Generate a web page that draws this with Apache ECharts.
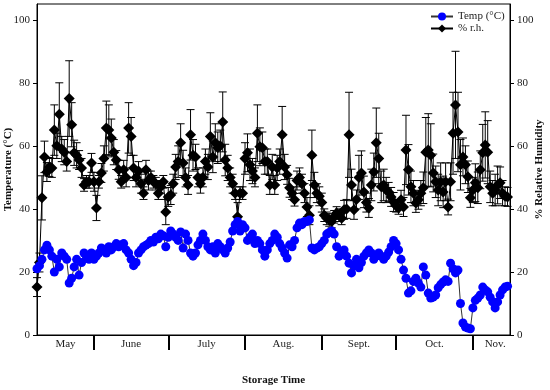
<!DOCTYPE html>
<html>
<head>
<meta charset="utf-8">
<script src="https://cdn.jsdelivr.net/npm/echarts@6/dist/echarts.min.js"></script>
<style>
html,body{margin:0;padding:0;background:#fff;}
#chart{width:550px;height:390px;}
</style>
</head>
<body>
<div id="chart"></div>
<script>
// Day index from start of storage (early May) to mid November
const monthNames = ['May', 'June', 'July', 'Aug.', 'Sept.', 'Oct.', 'Nov.'];
const monthLabelPos = [11.5, 38, 68.5, 99.5, 130, 160.5, 185];
const monthBounds = [23, 53, 84, 115, 145, 176];
const yTicks = [0, 20, 40, 60, 80, 100];

// Temperature (°C), one value per day
const temp = [
21,22,24,27,28.5,27,25,20,24,21.6,
26,25,24,16.5,18,21.6,24,19,23,26,
25,24,26,24,25,26,27.6,27,26,28,
27,28,29,28,28.6,29,27,26,24,22,
23,26,27,28,28.5,29,30,29.5,31,30.5,
32,31.5,28,31,33,32,31,30,32.7,27.6,
32,30,26,25,26,28.6,30,32,30,28,
27,28,26,29,28,27,26,27.6,29.5,33,
35,36,33,35,34,30,31,32,29,30,
29,27,25,27,29,30,32,31,29,27.6,
26,24.4,28.6,28,30,34,35.5,35,36,36,
36.5,27.6,27,27.6,28,29,30,32,32.5,33,
32,28,25,26,27,25,22.8,19.7,22,24,
21.3,23,25,26,27,26,24,25,26,25,
24,25,26.3,28,30,29,27,24,20.6,18,
13.3,14,17,18,16.5,15.2,21.6,19,13.3,11.7,
12,12.7,15,16,16.8,17.5,17,22.8,21,19.7,
20.6,10,3.8,2.5,2.2,2,8.6,11,11.7,12.7,
15.2,14.3,13.7,12,10.5,8.6,10.5,12.7,14.3,15.2,
15.5
];

// Relative humidity (%), one value per day
const rh = [
15.2,23,43.5,56.5,51.7,53.3,53,65,60,70,
59,58,55,75,66.7,57.8,57,55.5,53,47.6,
48.6,48.6,54.6,48.6,40.3,48.6,51.4,56,65.7,65,
62.5,58,55.5,52.4,48.6,52.4,50,65.7,63,53,
50,52,48,45,52.4,49,50,48.6,48,45,
47,48.6,39,43.8,44.4,48,53.3,55,61,54.6,
50,47.6,63.5,57,56.5,50,48,50,55,53.3,
63,56.5,61,59.4,60,67.6,55.5,53,50,48,
45,37.5,45,45,56,57.8,54,52,50,64,
59.7,59.4,55,55,47.6,53.3,47.6,53,55,63.5,
53.3,50.8,46.7,45,42.9,49,50,48,45,40.6,
38,57,47.6,45,44,42,38,37,36.5,36,
37.5,38.7,38,37,39.7,40,63.5,47.6,39.7,43,
50,51.4,45.4,42,40.3,47.6,51.7,61,56,47,
47.6,46,45.4,43.8,42.2,41,40.3,42.9,40.6,58.7,
52.4,47,45,41.9,42.9,45,46.7,58,58.7,57,
51.4,48.6,46,48.6,45.4,48.6,40.6,48.6,64,73,
64.4,54,56.5,54,50.2,43.5,46,48.3,46.7,52.4,
57.8,60.3,58,47,45,46,47.6,48.3,45,44,
43.8
];

// Standard deviation of relative humidity (%)
const rhErr = [
3,3,7,5,3,3,3,8,4,10,
4,4,3,12,7,4,4,3,3,2,
2,2,3,3,4,2,3,4,8.5,8,
6,4,3,3,2,3,3,8,6,4,
3,3,3,2,3,3,2,2,2,2,
2,2,4,3,3,3,4,5,6,4,
3,3,8,5,4,3,3,3,4,4,
7.5,5,6,5,5,9.5,5,4,3,3,
2,4.5,2,2,5,6,5,4,3,9,
6,5,4,4,3,4,3,4,4,9,
4,3,3,2,2,3,3,3,3,3,
3,8,4,3,3,3,2,2,2,2,
2,2,2,2,3,3,13.5,5,3,3,
7,7,5,3,3,5,6,11,8,5,
5,4,3,3,3,2,2,3,3,11,
8,5,4,3,3,4,5,11,11.5,10,
6,5,5,6,5,6,2.5,6,13,17,
12.6,8,6,6,5,3,4,6,5,6,
9,10.5,10,5,4,5,6,5,4,3,
3
];

const days = temp.map((_, i) => i);
const tempData = days.map((d, i) => [d, temp[i]]);
const rhData = days.map((d, i) => [d, rh[i]]);
const errData = days.map((d, i) => [d, rh[i] - rhErr[i], rh[i] + rhErr[i]]);

const serif = 'Liberation Serif, Times New Roman, serif';
const chart = echarts.init(document.getElementById('chart'), null, {renderer: 'canvas'});

function yAxisCfg(pos, name, gap) {
  return {
    type: 'value', position: pos, min: 0, max: 105, interval: 20,
    name: name, nameLocation: 'middle', nameGap: gap, nameMoveOverlap: false,
    nameTextStyle: {fontFamily: serif, fontWeight: 'bold', fontSize: 11, color: '#111'},
    axisLine: {show: true, lineStyle: {color: '#000', width: 1}},
    axisTick: {show: true, inside: false, length: 4, lineStyle: {color: '#000'}, customValues: yTicks},
    axisLabel: {fontFamily: serif, fontSize: 11, color: '#222', margin: 7, customValues: yTicks},
    splitLine: {show: false}
  };
}

const option = {
  backgroundColor: '#fff',
  animation: false,
  grid: {left: 37, right: 40, top: 4, bottom: 55, outerBoundsMode: 'none', containLabel: false,
         show: true, borderColor: '#000', borderWidth: 1, backgroundColor: 'transparent'},
  legend: {
    data: ['Temp (°C)', '% r.h.'],
    orient: 'vertical', left: 430, top: 11, itemGap: 1, itemWidth: 22, itemHeight: 10, padding: 0,
    textStyle: {fontFamily: serif, fontSize: 11, color: '#222'}
  },
  xAxis: {
    type: 'value', min: 0, max: 191,
    name: 'Storage Time', nameLocation: 'middle', nameGap: 40, nameMoveOverlap: false,
    nameTextStyle: {fontFamily: serif, fontWeight: 'bold', fontSize: 11, color: '#111'},
    axisLine: {show: true, lineStyle: {color: '#000', width: 1}},
    axisTick: {show: true, inside: false, length: 15, customValues: monthBounds, lineStyle: {color: '#000', width: 2}},
    axisLabel: {
      customValues: monthLabelPos, margin: 4,
      fontFamily: serif, fontSize: 11, color: '#222',
      formatter: function (v) { const k = monthLabelPos.indexOf(v); return k >= 0 ? monthNames[k] : ''; }
    },
    splitLine: {show: false}
  },
  yAxis: [yAxisCfg('left', 'Temperature (°C)', 23), yAxisCfg('right', '% Relative Humidity', 24)],
  series: [
    {
      name: 'rhErr', type: 'custom', yAxisIndex: 1, z: 1, silent: true,
      data: errData,
      renderItem: function (params, api) {
        const x = api.value(0);
        const lo = api.coord([x, api.value(1)]);
        const hi = api.coord([x, api.value(2)]);
        const hw = 4;
        const st = {stroke: '#000', lineWidth: 1};
        return {
          type: 'group',
          children: [
            {type: 'line', shape: {x1: lo[0], y1: lo[1], x2: hi[0], y2: hi[1]}, style: st},
            {type: 'line', shape: {x1: lo[0] - hw, y1: lo[1], x2: lo[0] + hw, y2: lo[1]}, style: st},
            {type: 'line', shape: {x1: hi[0] - hw, y1: hi[1], x2: hi[0] + hw, y2: hi[1]}, style: st}
          ]
        };
      }
    },
    {
      name: '% r.h.', type: 'line', yAxisIndex: 1, z: 2,
      data: rhData, symbol: 'diamond', symbolSize: 11,
      itemStyle: {color: '#000'}, lineStyle: {color: '#000', width: 1}
    },
    {
      name: 'Temp (°C)', type: 'line', yAxisIndex: 0, z: 3,
      data: tempData, symbol: 'circle', symbolSize: 9,
      itemStyle: {color: '#0000ff'}, lineStyle: {color: '#333', width: 1}
    }
  ]
};
chart.setOption(option);
</script>
</body>
</html>
